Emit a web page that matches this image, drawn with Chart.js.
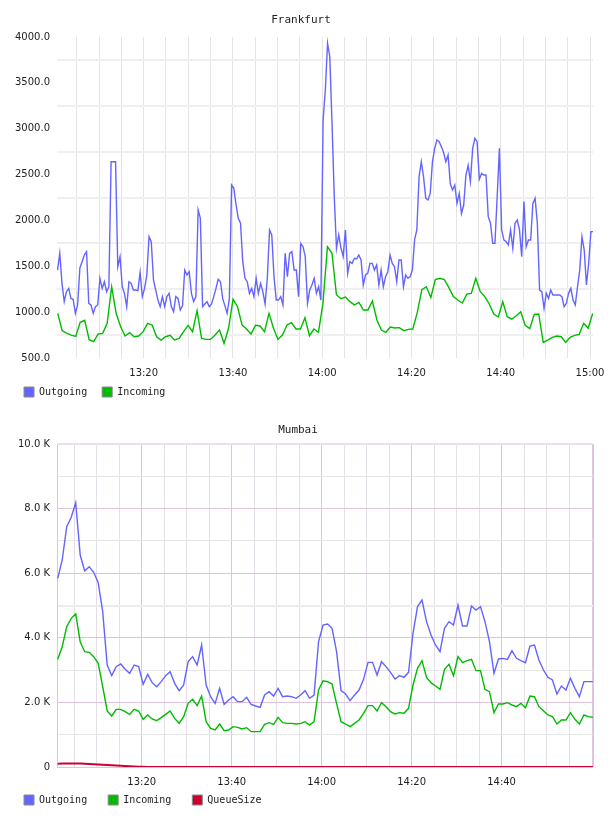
<!DOCTYPE html>
<html><head><meta charset="utf-8">
<script src="https://cdn.jsdelivr.net/npm/chart.js@4.4.1/dist/chart.umd.min.js"></script>
<style>
html,body{margin:0;padding:0;background:#fff;}
#c1{position:absolute;left:0;top:0;}
#c2{position:absolute;left:0;top:405px;}
</style></head><body>
<canvas id="c1" width="608" height="407"></canvas>
<canvas id="c2" width="608" height="410"></canvas>
<script>
// ---------- data (times are minutes after 13:00) ----------
const BASE_HOUR = 13;

// Frankfurt
const FRA_TITLE = 'Frankfurt';
const FRA_OUT_START = 0.7, FRA_OUT_STEP = 0.5;
const fraOutgoing = [
1459,1641,1314,1114,1223,1259,1150,1140,987,1078,
1480,1550,1623,1660,1096,1078,987,1060,1078,1369,
1259,1332,1223,1277,2640,2640,2640,1496,1605,1277,
1205,1060,1332,1314,1241,1241,1235,1434,1169,1259,
1400,1823,1769,1350,1241,1132,1060,1169,1060,1169,
1205,1060,1005,1169,1150,1023,1068,1459,1405,1441,
1205,1114,1169,2114,2023,1060,1089,1114,1060,1089,
1169,1259,1360,1332,1150,1068,987,1150,2386,2350,
2168,2023,1969,1550,1369,1332,1205,1259,1169,1369,
1205,1314,1223,1089,1369,1896,1842,1387,1132,1132,
1169,1078,1641,1387,1641,1660,1459,1459,1169,1750,
1714,1605,1096,1241,1296,1369,1205,1277,1132,3095,
3422,3931,3785,3059,2259,1696,1842,1700,1605,1896,
1423,1550,1532,1587,1580,1623,1569,1296,1405,1423,
1532,1532,1459,1514,1296,1459,1277,1387,1441,1623,
1532,1496,1332,1569,1569,1277,1405,1369,1387,1459,
1790,1896,2477,2640,2477,2240,2223,2295,2640,2786,
2877,2859,2804,2740,2640,2713,2400,2332,2386,2186,
2295,2077,2168,2495,2600,2422,2780,2895,2859,2450,
2513,2495,2495,2041,1969,1750,1750,2259,2786,1896,
1787,1769,1733,1896,1696,1969,2005,1896,1605,2205,
1714,1787,1787,2186,2241,1969,1241,1223,1041,1205,
1150,1241,1187,1187,1187,1187,1169,1060,1096,1205,
1259,1132,1078,1277,1459,1823,1678,1296,1532,1878,
1878];
const FRA_IN_START = 0.74, FRA_IN_STEP = 1.0072;
const fraIncoming = [
987,798,770,750,736,889,911,700,678,762,
769,878,1277,987,841,740,776,732,740,787,
878,860,732,696,732,747,696,714,787,856,
787,1016,714,703,703,751,805,660,824,1140,
1059,860,816,762,856,849,787,987,824,703,
751,860,885,816,816,939,743,816,780,1096,
1713,1645,1190,1147,1165,1114,1080,1107,1023,1023,
1121,914,805,780,838,827,831,798,812,816,
1000,1245,1277,1160,1355,1369,1355,1270,1169,1132,
1100,1197,1205,1369,1223,1169,1089,980,947,1114,
950,923,961,1005,856,820,975,980,671,696,
725,740,732,671,725,747,758,878,824,987];
const FRA_X_MIN = 0.58, FRA_X_MAX = 120.67;
const FRA_X_GRID = [5,10,15,20,25,30,35,40,45,50,55,60,65,70,75,80,85,90,95,100,105,110,115,120];
const FRA_Y_MIN = 500, FRA_Y_MAX = 4000;
const FRA_Y_GRID = [500,750,1000,1250,1500,1750,2000,2250,2500,2750,3000,3250,3500,3750,4000];

// Mumbai
const MUM_TITLE = 'Mumbai';
const MUM_START = 1.31, MUM_STEP = 1;
const mumOutgoing = [
5842,6409,7441,7730,8184,6563,6068,6202,6027,5707,
4809,3158,2828,3107,3190,3024,2900,3158,3107,2559,
2869,2611,2487,2642,2828,2952,2590,2363,2539,3262,
3417,3158,3777,2539,2177,1971,2436,1940,2074,2177,
2023,2023,2157,1940,1888,1847,2229,2332,2198,2436,
2177,2198,2177,2126,2229,2363,2126,2229,3880,4396,
4427,4293,3571,2363,2260,2054,2229,2384,2714,3240,
3240,2848,3261,3107,2931,2725,2828,2776,2931,4139,
4965,5170,4499,4087,3777,3571,4293,4499,4396,5016,
4365,4365,4985,4861,4965,4499,3880,2900,3344,3364,
3333,3602,3364,3292,3230,3746,3777,3313,3003,2776,
2694,2260,2508,2384,2745,2436,2177,2642,2642,2642];
const mumIncoming = [
3334,3725,4344,4602,4737,3880,3570,3550,3416,3210,
2487,1734,1579,1785,1785,1713,1630,1785,1734,1476,
1610,1486,1434,1527,1630,1734,1506,1352,1558,1971,
2095,1899,2198,1403,1197,1146,1331,1125,1146,1249,
1228,1176,1218,1094,1094,1094,1321,1373,1321,1538,
1373,1352,1352,1331,1352,1403,1300,1403,2384,2672,
2641,2570,1971,1403,1331,1249,1352,1455,1662,1899,
1899,1734,1992,1868,1713,1641,1682,1662,1817,2539,
3055,3292,2776,2611,2508,2405,3024,3179,2827,3416,
3230,3292,3334,2983,2983,2405,2333,1682,1950,1950,
1992,1920,1868,1971,1837,2198,2177,1868,1744,1610,
1558,1331,1455,1455,1682,1476,1331,1610,1558,1538];
const mumQueueSize = [
100,105,108,110,110,105,100,95,88,80,
72,64,55,46,38,30,22,15,9,4,
1,0,0,0,0,0,0,0,0,0,
0,0,0,0,0,0,0,0,0,0,
0,0,0,0,0,0,0,0,0,0,
0,0,0,0,0,0,0,0,0,0,
0,0,0,0,0,0,0,0,0,0,
0,0,0,0,0,0,0,0,0,0,
0,0,0,0,0,0,0,0,0,0,
0,0,0,0,0,0,0,0,0,0,
0,0,0,0,0,0,0,0,0,0,
0,0,0,0,0,0,0,0,0,0];
const MUM_X_MIN = 1.15, MUM_X_MAX = 120.33;
const MUM_X_GRID = [5,10,15,20,25,30,35,40,45,50,55,60,65,70,75,80,85,90,95,100,105,110,115];
const MUM_Y_MIN = 0, MUM_Y_MAX = 10000;
const MUM_Y_GRID = [0,1000,2000,3000,4000,5000,6000,7000,8000,9000,10000];

// ---------- styles ----------
const BLUE = '#6464ff', GREEN = '#00bb00', RED = '#cc0033';
const LAV = 'rgb(222,196,222)', LAV_LIGHT = 'rgb(236,222,236)';
const TICK_FONT = {family: 'DejaVu Sans', size: 10};
const TITLE_FONT = {family: 'DejaVu Sans Mono', size: 11, weight: 'normal'};
const LEGEND_FONT = {family: 'DejaVu Sans Mono', size: 10};

function hhmm(m) {
  const h = BASE_HOUR + Math.floor(m / 60);
  const mm = Math.round(m % 60);
  return h + ':' + String(mm).padStart(2, '0');
}
function series(values, start, step) {
  return values.map((v, i) => ({x: start + i * step, y: v}));
}
function legendLabels(chart) {
  const items = Chart.defaults.plugins.legend.labels.generateLabels(chart);
  items.forEach(it => { it.strokeStyle = '#8a8a8a'; it.lineWidth = 1; });
  return items;
}
function line(label, data, color, width) {
  return {label, data, borderColor: color, backgroundColor: color, borderWidth: width,
          pointRadius: 0, tension: 0, fill: false};
}
// x-axis kept short so the legend sits close; let its labels draw below the box
function shortXAxis(h) {
  return s => {
    s.height = h; s.paddingLeft = 0; s.paddingRight = 0;
    s._computeLabelArea = () => undefined;
  };
}

// ---------- Frankfurt ----------
new Chart(document.getElementById('c1'), {
  type: 'line',
  data: {datasets: [
    line('Outgoing', series(fraOutgoing, FRA_OUT_START, FRA_OUT_STEP), BLUE, 1.4),
    line('Incoming', series(fraIncoming, FRA_IN_START, FRA_IN_STEP), GREEN, 1.4)
  ]},
  options: {
    responsive: false, animation: false, devicePixelRatio: 1,
    layout: {padding: {left: 9, right: 15, top: 0, bottom: 0}},
    plugins: {
      title: {display: true, text: FRA_TITLE, font: TITLE_FONT, color: '#222', padding: {top: 14, bottom: 9.8}},
      legend: {position: 'bottom', align: 'start',
        labels: {boxWidth: 10, boxHeight: 10, padding: 15, font: LEGEND_FONT, color: '#222', generateLabels: legendLabels}},
      tooltip: {enabled: false}
    },
    scales: {
      x: {type: 'linear', min: FRA_X_MIN, max: FRA_X_MAX, bounds: 'data',
        afterBuildTicks: s => { s.ticks = FRA_X_GRID.map(v => ({value: v})); },
        afterFit: shortXAxis(14),
        ticks: {autoSkip: false, maxRotation: 0, padding: 9, font: TICK_FONT, color: '#222',
          callback: v => (v % 20 === 0 ? hhmm(v) : '')},
        grid: {drawTicks: false, color: '#e4e4e4', lineWidth: 1},
        border: {display: false}},
      y: {type: 'linear', min: FRA_Y_MIN, max: FRA_Y_MAX,
        afterBuildTicks: s => { s.ticks = FRA_Y_GRID.map(v => ({value: v})); },
        afterFit: s => { s.width = 48; },
        ticks: {autoSkip: false, padding: 7, font: TICK_FONT, color: '#222',
          callback: v => (v % 500 === 0 ? v.toFixed(1) : '')},
        grid: {drawTicks: false, lineWidth: 2,
          color: c => (c.tick && c.tick.value % 500 === 0 ? 'rgba(0,0,0,0)' : '#efefef')},
        border: {display: false}}
    }
  }
});

// ---------- Mumbai ----------
new Chart(document.getElementById('c2'), {
  type: 'line',
  data: {datasets: [
    line('Outgoing', series(mumOutgoing, MUM_START, MUM_STEP), BLUE, 1.4),
    line('Incoming', series(mumIncoming, MUM_START, MUM_STEP), GREEN, 1.4),
    line('QueueSize', series(mumQueueSize, MUM_START, MUM_STEP), RED, 2)
  ]},
  options: {
    responsive: false, animation: false, devicePixelRatio: 1,
    layout: {padding: {left: 3, right: 15, top: 0, bottom: 0}},
    plugins: {
      title: {display: true, text: MUM_TITLE, font: TITLE_FONT, color: '#222', padding: {top: 18.4, bottom: 7.4}},
      legend: {position: 'bottom', align: 'start',
        labels: {boxWidth: 10, boxHeight: 10, padding: 21, font: LEGEND_FONT, color: '#222', generateLabels: legendLabels}},
      tooltip: {enabled: false}
    },
    scales: {
      x: {type: 'linear', min: MUM_X_MIN, max: MUM_X_MAX, bounds: 'data',
        afterBuildTicks: s => { s.ticks = MUM_X_GRID.map(v => ({value: v})).concat([{value: s.max}]); },
        afterFit: shortXAxis(7),
        ticks: {autoSkip: false, maxRotation: 0, padding: 9, font: TICK_FONT, color: '#222',
          callback: v => (v % 20 === 0 ? hhmm(v) : '')},
        grid: {drawTicks: false,
          color: c => { const v = c.tick ? c.tick.value : 0; return (v % 20 === 0 || v === MUM_X_MAX) ? LAV : 'rgb(230,222,230)'; },
          lineWidth: c => (c.tick && c.tick.value === MUM_X_MAX ? 2 : 1)},
        border: {display: false}},
      y: {type: 'linear', min: MUM_Y_MIN, max: MUM_Y_MAX,
        afterBuildTicks: s => { s.ticks = MUM_Y_GRID.map(v => ({value: v})); },
        afterFit: s => { s.width = 54; },
        ticks: {autoSkip: false, padding: 7, font: TICK_FONT, color: '#222',
          callback: v => (v === 0 ? '0' : (v % 2000 === 0 ? (v / 1000).toFixed(1) + ' K' : ''))},
        grid: {drawTicks: false,
          color: c => { const v = c.tick ? c.tick.value : 0;
            if (v === MUM_Y_MAX) return LAV_LIGHT;
            if (v === 5000) return '#ececec';
            return v % 2000 === 0 ? LAV : '#e6e6e6'; },
          lineWidth: c => { const v = c.tick ? c.tick.value : 0; return (v === MUM_Y_MAX || v === 5000) ? 2 : 1; }},
        border: {display: true, color: LAV, width: 1}}
    }
  }
});
</script>
</body></html>
